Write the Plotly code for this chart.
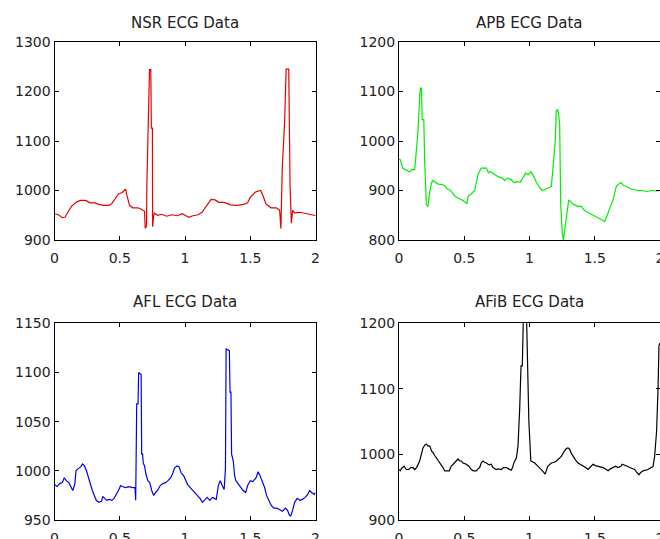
import plotly.graph_objects as go

# ---------------- data ----------------
nsr_t = [0, 0.03, 0.06, 0.08, 0.1, 0.13, 0.17, 0.2, 0.24, 0.27, 0.31, 0.34, 0.38, 0.42, 0.44, 0.47,
         0.49, 0.52, 0.545, 0.555, 0.575, 0.6, 0.64, 0.665, 0.69, 0.695, 0.705, 0.708, 0.72, 0.728,
         0.738, 0.742, 0.75, 0.752, 0.76, 0.765, 0.79, 0.82, 0.86, 0.9, 0.94, 0.98, 1.0, 1.03, 1.06,
         1.1, 1.13, 1.17, 1.2, 1.23, 1.26, 1.3, 1.35, 1.4, 1.45, 1.48, 1.5, 1.54, 1.58, 1.6, 1.62,
         1.66, 1.7, 1.725, 1.735, 1.745, 1.764, 1.775, 1.795, 1.805, 1.815, 1.825, 1.84, 1.88, 1.92,
         1.96, 1.99, 2.0]
nsr_v = [953, 951, 945, 946, 955, 968, 977, 980, 980, 975, 975, 972, 970, 970, 974, 984,
         993, 996, 1003, 990, 970, 965, 965, 962, 958, 924, 928, 1015, 1126, 1244,
         1244, 1126, 1126, 927, 950, 954, 950, 952, 948, 951, 949, 953, 950, 946, 949,
         951, 956, 972, 982, 981, 976, 976, 971, 970, 972, 975, 986, 997, 1000, 988, 973,
         965, 965, 960, 923, 1042, 1143, 1245, 1245, 1010, 934, 960, 955, 956, 954,
         953, 950, 949]

apb_t = [0, 0.01, 0.03, 0.05, 0.08, 0.1, 0.12, 0.13, 0.145, 0.16, 0.165, 0.172, 0.178, 0.19, 0.197,
         0.21, 0.222, 0.235, 0.248, 0.26, 0.27, 0.3, 0.33, 0.35, 0.37, 0.39, 0.41, 0.43, 0.46, 0.49,
         0.52, 0.53, 0.56, 0.58, 0.605, 0.63, 0.65, 0.67, 0.685, 0.7, 0.73, 0.76, 0.79, 0.81, 0.83,
         0.86, 0.88, 0.9, 0.93, 0.95, 0.97, 0.99, 1.01, 1.03, 1.05, 1.08, 1.1, 1.13, 1.15, 1.167,
         1.175, 1.188, 1.198, 1.205, 1.215, 1.222, 1.231, 1.239, 1.25, 1.26, 1.275, 1.29, 1.3, 1.316,
         1.33, 1.346, 1.37, 1.397, 1.42, 1.44, 1.47, 1.49, 1.52, 1.54, 1.56, 1.576, 1.59, 1.601,
         1.62, 1.64, 1.665, 1.69, 1.704, 1.72, 1.742, 1.76, 1.78, 1.8, 1.83, 1.86, 1.9, 1.94, 1.97,
         2.0]
apb_v = [963, 962, 945, 942, 938, 942, 942, 972, 1019, 1097, 1107, 1107, 1043, 1043, 955,
         871, 868, 895, 915, 920, 918, 913, 912, 910, 903, 901, 895, 888, 884, 880,
         874, 888, 895, 900, 932, 945, 945, 945, 936, 938, 933, 928, 925, 920, 925,
         922, 916, 918, 917, 925, 935, 932, 938, 930, 918, 905, 900, 903, 905, 908,
         930, 969, 1002, 1060, 1064, 1055, 1036, 874, 817, 800, 831, 870, 880, 878,
         873, 871, 868, 868, 860, 857, 853, 850, 846, 844, 840, 837, 845, 854,
         868, 881, 908, 915, 916, 910, 908, 905, 903, 902, 900, 900, 898, 900, 899,
         900]

afl_t = [0, 0.02, 0.04, 0.06, 0.075, 0.09, 0.11, 0.13, 0.14, 0.155, 0.165, 0.18, 0.2, 0.215, 0.23,
         0.245, 0.265, 0.28, 0.29, 0.305, 0.32, 0.34, 0.36, 0.37, 0.385, 0.4, 0.42, 0.44, 0.456,
         0.47, 0.49, 0.507, 0.52, 0.545, 0.57, 0.6, 0.617, 0.622, 0.63, 0.64, 0.645, 0.664, 0.668,
         0.675, 0.68, 0.69, 0.7, 0.715, 0.73, 0.745, 0.76, 0.775, 0.79, 0.81, 0.83, 0.85, 0.87,
         0.89, 0.905, 0.92, 0.94, 0.955, 0.97, 0.99, 1.02, 1.04, 1.06, 1.08, 1.095, 1.115, 1.133,
         1.15, 1.17, 1.19, 1.21, 1.225, 1.24, 1.255, 1.27, 1.285, 1.3, 1.31, 1.315, 1.34, 1.345,
         1.352, 1.357, 1.37, 1.38, 1.39, 1.41, 1.43, 1.445, 1.465, 1.48, 1.5, 1.52, 1.545, 1.56,
         1.575, 1.59, 1.61, 1.625, 1.645, 1.66, 1.68, 1.7, 1.72, 1.746, 1.77, 1.785, 1.8, 1.81,
         1.825, 1.84, 1.86, 1.88, 1.9, 1.92, 1.94, 1.955, 1.97, 1.99, 2.0]
afl_v = [986, 984, 987, 988, 993, 990, 988, 983, 980, 986, 1000, 1002, 1004, 1007, 1005,
         1000, 990, 984, 980, 975, 970, 968, 969, 974, 972, 970, 971, 970, 972,
         975, 980, 985, 984, 983, 984, 983, 983, 970, 1068, 1068, 1100, 1098, 1017,
         1017, 1008, 1005, 997, 990, 988, 980, 975, 978, 980, 985, 987, 988, 990,
         993, 997, 1003, 1005, 1004, 998, 995, 986, 983, 980, 977, 975, 972, 968,
         970, 973, 970, 973, 972, 971, 985, 990, 985, 981, 1002, 1124, 1122, 1080,
         1080, 1017, 1010, 995, 990, 986, 982, 980, 978, 985, 990, 989, 993, 999,
         995, 990, 983, 975, 970, 965, 962, 962, 961, 959, 962, 960, 955, 954,
         960, 968, 972, 970, 971, 973, 976, 980, 978, 976, 978]

afib_t = [0, 0.01, 0.02, 0.04, 0.055, 0.075, 0.09, 0.107, 0.12, 0.135, 0.158, 0.17, 0.184, 0.2,
          0.21, 0.22, 0.235, 0.25, 0.26, 0.275, 0.286, 0.3, 0.31, 0.325, 0.337, 0.35, 0.37, 0.385,
          0.4, 0.415, 0.427, 0.44, 0.452, 0.465, 0.478, 0.49, 0.516, 0.535, 0.554, 0.57, 0.593,
          0.605, 0.618, 0.63, 0.644, 0.655, 0.67, 0.69, 0.707, 0.72, 0.746, 0.76, 0.784, 0.8,
          0.823, 0.84, 0.86, 0.87, 0.88, 0.9, 0.912, 0.925, 0.935, 0.945, 0.955, 0.975, 0.985,
          0.99, 0.995, 1.01, 1.04, 1.06, 1.078, 1.1, 1.12, 1.13, 1.14, 1.167, 1.19, 1.206, 1.225,
          1.244, 1.26, 1.282, 1.295, 1.308, 1.32, 1.333, 1.35, 1.372, 1.39, 1.41, 1.43, 1.448,
          1.46, 1.487, 1.505, 1.525, 1.545, 1.563, 1.58, 1.602, 1.62, 1.64, 1.66, 1.678, 1.7,
          1.71, 1.73, 1.75, 1.768, 1.79, 1.806, 1.82, 1.839, 1.85, 1.87, 1.89, 1.908, 1.93,
          1.946, 1.959, 1.974, 1.985, 1.992, 2.0]
afib_v = [977, 975, 979, 982, 977, 977, 980, 980, 977, 980, 990, 1000, 1010, 1015,
          1016, 1013, 1013, 1005, 1003, 998, 995, 990, 987, 983, 980, 975, 975, 975,
          982, 985, 987, 990, 993, 990, 990, 987, 985, 982, 977, 975, 975,
          978, 980, 987, 990, 988, 987, 984, 985, 980, 977, 978, 977, 980,
          980, 978, 976, 980, 987, 995, 1013, 1071, 1135, 1135, 1230, 1230, 1137,
          1137, 1051, 990, 987, 983, 980, 975, 970, 978, 982, 987, 988, 990, 994,
          997, 1003, 1009, 1010, 1008, 1002, 997, 992, 987, 985, 982, 980, 977,
          980, 985, 983, 982, 980, 980, 978, 975, 978, 980, 982, 980, 982,
          985, 984, 982, 980, 978, 977, 973, 969, 972, 975, 976, 977, 980,
          981, 997, 1036, 1100, 1166, 1170]

titles = ["NSR ECG Data", "APB ECG Data", "AFL ECG Data", "AFiB ECG Data"]
x_ticks = [0, 0.5, 1, 1.5, 2]
x_ticktext = ["0", "0.5", "1", "1.5", "2"]
y_ticks_nsr = [900, 1000, 1100, 1200, 1300]
y_ticks_apb = [800, 900, 1000, 1100, 1200]
y_ticks_afl = [950, 1000, 1050, 1100, 1150]
y_ticks_afib = [900, 1000, 1100, 1200]

# ---------------- figure ----------------
W, H = 660, 539
FONT = "DejaVu Sans"

series = [
    (nsr_t, nsr_v, "#e80000", y_ticks_nsr, [900, 1300]),
    (apb_t, apb_v, "#00ee00", y_ticks_apb, [800, 1200]),
    (afl_t, afl_v, "#0000f0", y_ticks_afl, [950, 1150]),
    (afib_t, afib_v, "#000000", y_ticks_afib, [900, 1200]),
]

# pixel boxes (left, right, top, bottom)
boxes = [(54.5, 315.5, 42, 240), (399, 660, 42, 240),
         (54.5, 315.5, 323.3, 520), (399, 660, 323.3, 520)]
title_shift = [19, 19, 21, 21]

fig = go.Figure()
layout = dict(width=W, height=H, margin=dict(l=0, r=0, t=0, b=0),
              paper_bgcolor="white", plot_bgcolor="white", showlegend=False,
              font=dict(family=FONT, size=14, color="#222222"))
annotations = []
for i, ((t, v, col, yt, yr), (l, r, tp, bt)) in enumerate(zip(series, boxes)):
    n = "" if i == 0 else str(i + 1)
    fig.add_trace(go.Scatter(x=t, y=v, mode="lines", line=dict(color=col, width=1.2),
                             xaxis="x" + n, yaxis="y" + n, hoverinfo="skip"))
    common = dict(showline=True, linecolor="black", linewidth=1, mirror="ticks",
                  ticks="inside", ticklen=4, tickcolor="black", showgrid=False,
                  zeroline=False, automargin=False, ticklabeloverflow="allow",
                  tickfont=dict(family=FONT, size=14, color="#222222"))
    layout["xaxis" + n] = dict(domain=[l / W, r / W], range=[0, 2], tickvals=x_ticks,
                               ticktext=x_ticktext, anchor="y" + n, ticklabelstandoff=5,
                               **common)
    layout["yaxis" + n] = dict(domain=[(H - bt) / H, (H - tp) / H], range=yr, tickvals=yt,
                               anchor="x" + n, **common)
    annotations.append(dict(text=titles[i], xref="x" + n + " domain", yref="y" + n + " domain",
                            x=0.5, y=1, xanchor="center", yanchor="middle",
                            yshift=title_shift[i], showarrow=False,
                            font=dict(family=FONT, size=15, color="#222222")))
layout["annotations"] = annotations
fig.update_layout(**layout)
fig.write_html("out.html", config={"displayModeBar": False},
               post_script="document.body.style.margin='0px';document.body.style.overflow='hidden';")
